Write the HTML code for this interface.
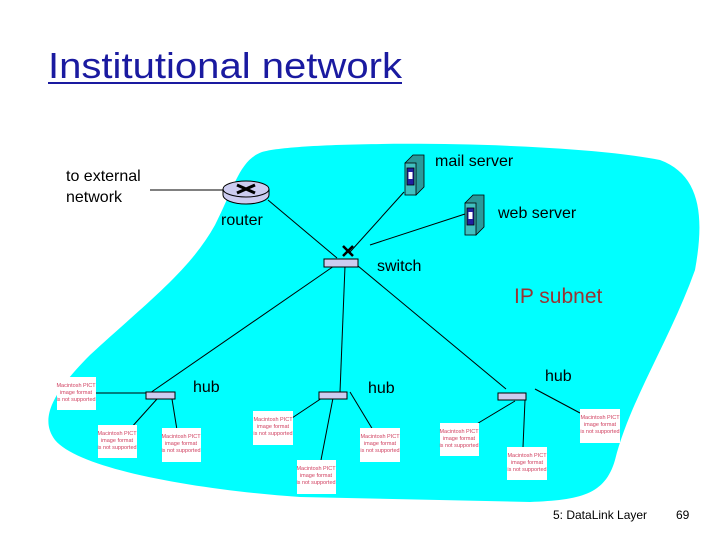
<!DOCTYPE html>
<html><head><style>
body{margin:0;width:720px;height:540px;background:#fff;overflow:hidden;font-family:"Liberation Sans",sans-serif}
</style></head><body>
<svg width="720" height="540" xmlns="http://www.w3.org/2000/svg" font-family="Liberation Sans, sans-serif">
<path d="M262,152 C300,140 560,140 660,160 C700,175 705,215 695,270 C670,340 630,400 615,460 C605,495 580,500 530,502 L300,497 C200,490 80,470 55,440 C40,420 50,395 90,355 C150,300 190,270 215,225 C235,185 240,160 262,152 Z" fill="#00ffff"/>
<text x="48" y="78" font-size="36" fill="#1a1aa0" textLength="354" lengthAdjust="spacingAndGlyphs">Institutional network</text>
<line x1="48" y1="83" x2="402" y2="83" stroke="#1a1aa0" stroke-width="2"/>
<text x="66" y="181" font-size="16" fill="#000">to external</text>
<text x="66" y="202" font-size="16" fill="#000">network</text>
<g stroke="#000" stroke-width="1" fill="none">
<line x1="150" y1="190" x2="225" y2="190"/>
<line x1="268" y1="200" x2="337" y2="258"/>
<line x1="404" y1="192" x2="350" y2="252"/>
<line x1="465" y1="214" x2="370" y2="245"/>
<line x1="334" y1="266" x2="150" y2="393"/>
<line x1="345" y1="266" x2="340" y2="392"/>
<line x1="358" y1="266" x2="506" y2="389"/>
<line x1="92" y1="393" x2="146" y2="393"/>
<line x1="157" y1="399" x2="130" y2="429"/>
<line x1="172" y1="399" x2="177" y2="430"/>
<line x1="322" y1="398" x2="292" y2="418"/>
<line x1="333" y1="398" x2="321" y2="460"/>
<line x1="350" y1="392" x2="373" y2="430"/>
<line x1="515" y1="401" x2="475" y2="425"/>
<line x1="525" y1="400" x2="523" y2="447"/>
<line x1="535" y1="389" x2="580" y2="413"/>
</g>
<!-- router -->
<path d="M223,189 v6 a23,9 0 0 0 46,0 v-6" fill="#ccccf0" stroke="#000"/>
<ellipse cx="246" cy="189" rx="23" ry="8" fill="#ccccf0" stroke="#000"/>
<path d="M237,185 l18,8 M237,193 l18,-8" stroke="#000" stroke-width="3"/>
<text x="221" y="225" font-size="16">router</text>
<!-- servers -->
<g stroke="#000" stroke-width="0.8">
<path d="M405,163 l8,-8 h11 v32 l-8,8 z" fill="#2a9a9a"/>
<rect x="405" y="163" width="11" height="32" fill="#40c0c0"/>
<rect x="407" y="168" width="7" height="17" fill="#2020a0"/>
<rect x="408.5" y="172" width="4" height="7" fill="#fff" stroke="none"/>
<path d="M465,203 l8,-8 h11 v32 l-8,8 z" fill="#2a9a9a"/>
<rect x="465" y="203" width="11" height="32" fill="#40c0c0"/>
<rect x="467" y="208" width="7" height="17" fill="#2020a0"/>
<rect x="468.5" y="212" width="4" height="7" fill="#fff" stroke="none"/>
</g>
<text x="435" y="166" font-size="16">mail server</text>
<text x="498" y="218" font-size="16">web server</text>
<!-- switch -->
<rect x="324" y="259" width="34" height="8" fill="#ccccf0" stroke="#000"/>
<path d="M343,246 l10,10 M353,246 l-10,10" stroke="#000" stroke-width="2.5"/>
<text x="377" y="271" font-size="16">switch</text>
<text x="514" y="303" font-size="21" fill="#993333">IP subnet</text>
<!-- hubs -->
<g fill="#ccccf0" stroke="#000">
<rect x="146" y="392" width="29" height="7"/>
<rect x="319" y="392" width="28" height="7"/>
<rect x="498" y="393" width="28" height="7"/>
</g>
<text x="193" y="392" font-size="16">hub</text>
<text x="368" y="393" font-size="16">hub</text>
<text x="545" y="381" font-size="16">hub</text>
<!-- pict boxes -->
<g font-size="5.5" fill="#d04060" text-anchor="middle">
<g transform="translate(57,377)"><rect width="39" height="33" fill="#fff"/><text x="19" y="10">Macintosh PICT</text><text x="19" y="17">image format</text><text x="19" y="24">is not supported</text></g>
<g transform="translate(98,425)"><rect width="39" height="33" fill="#fff"/><text x="19" y="10">Macintosh PICT</text><text x="19" y="17">image format</text><text x="19" y="24">is not supported</text></g>
<g transform="translate(162,428)"><rect width="39" height="34" fill="#fff"/><text x="19" y="10">Macintosh PICT</text><text x="19" y="17">image format</text><text x="19" y="24">is not supported</text></g>
<g transform="translate(253,411)"><rect width="40" height="34" fill="#fff"/><text x="20" y="10">Macintosh PICT</text><text x="20" y="17">image format</text><text x="20" y="24">is not supported</text></g>
<g transform="translate(297,460)"><rect width="39" height="34" fill="#fff"/><text x="19" y="10">Macintosh PICT</text><text x="19" y="17">image format</text><text x="19" y="24">is not supported</text></g>
<g transform="translate(360,428)"><rect width="40" height="34" fill="#fff"/><text x="20" y="10">Macintosh PICT</text><text x="20" y="17">image format</text><text x="20" y="24">is not supported</text></g>
<g transform="translate(440,423)"><rect width="39" height="33" fill="#fff"/><text x="19" y="10">Macintosh PICT</text><text x="19" y="17">image format</text><text x="19" y="24">is not supported</text></g>
<g transform="translate(507,447)"><rect width="40" height="33" fill="#fff"/><text x="20" y="10">Macintosh PICT</text><text x="20" y="17">image format</text><text x="20" y="24">is not supported</text></g>
<g transform="translate(580,409)"><rect width="40" height="34" fill="#fff"/><text x="20" y="10">Macintosh PICT</text><text x="20" y="17">image format</text><text x="20" y="24">is not supported</text></g>
</g>
<text x="553" y="519" font-size="12">5: DataLink Layer</text>
<text x="676" y="519" font-size="12">69</text>
</svg>
</body></html>
